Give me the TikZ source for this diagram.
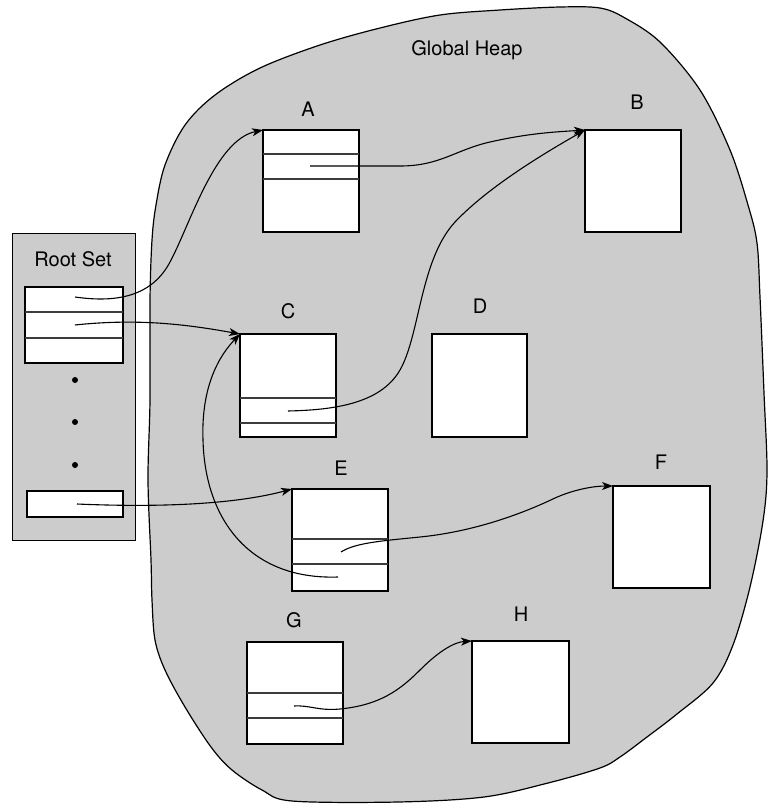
\documentclass[tikz,border=0pt]{standalone}
\usepackage{fontspec}
\setmainfont{TeX Gyre Heros}
\usetikzlibrary{arrows.meta}
\definecolor{heap}{RGB}{204,204,204}
\definecolor{divc}{RGB}{60,60,60}
\begin{document}
\begin{tikzpicture}[x=1pt,y=-1pt,
 obj/.style={draw=black, line width=1.4pt, fill=white, anchor=north west, inner sep=0pt, outer sep=0pt, minimum width=96pt, minimum height=102pt},
 divider/.style={draw=divc, line width=1.1pt},
 lbl/.style={font=\fontsize{20}{24}\selectfont, inner sep=0pt},
 ptr/.style={draw=black, line width=1.1pt, -{Stealth[length=11pt,width=8pt,inset=3pt]}},
 dotm/.style={circle, fill=black, inner sep=0pt, minimum size=6pt}]
\useasboundingbox (0,0) rectangle (768,804);

% Global heap blob
\draw[fill=heap, line width=1.2pt] plot[smooth cycle, tension=0.55] coordinates {
 (152,240) (156,205) (165,165) (185,125) (215,95) (260,68) (320,45) (380,28) (440,15)
 (500,10) (560,7) (600,8) (625,18) (660,42) (700,90) (730,150) (748,205) (757,243)
 (760,297) (764,393) (767,471) (763,521) (750,587) (733,645) (713,683) (677,714)
 (647,737) (620,757) (600,768) (548,783) (484,797) (398,802) (292,801) (262,790)
 (232,770) (211,747) (185,707) (165,670) (155,640) (152,600) (151,560) (148,480)
 (150,400) (150,300)};
\node[lbl] (heaplbl) at (467,50) {Global Heap};

% Root set
\node[draw=black, fill=heap, line width=1.4pt, anchor=north west, inner sep=0pt,
      minimum width=123pt, minimum height=307pt] (root) at (12,233) {};
\node[lbl] (rootlbl) at (73,259) {Root Set};
\node[obj, minimum width=98pt, minimum height=76pt] (rg) at (25,287) {};
\draw[divider] ([yshift=-25pt]rg.north west) -- ([yshift=-25pt]rg.north east);
\draw[divider] ([yshift=-51pt]rg.north west) -- ([yshift=-51pt]rg.north east);
\node[dotm] (d1) at (75,380) {};
\node[dotm] (d2) at (75,422) {};
\node[dotm] (d3) at (75,465) {};
\node[obj, minimum width=96pt, minimum height=26pt] (rl) at (27,491) {};

% Objects
\node[obj] (A) at (263,130) {};
\draw[divider] ([yshift=-24pt]A.north west) -- ([yshift=-24pt]A.north east);
\draw[divider] ([yshift=-49pt]A.north west) -- ([yshift=-49pt]A.north east);
\node[lbl] (lA) at (308,109) {A};

\node[obj] (B) at (585,130) {};
\node[lbl] (lB) at (637,102) {B};

\node[obj, minimum height=103pt] (C) at (240,334) {};
\draw[divider] ([yshift=-64pt]C.north west) -- ([yshift=-64pt]C.north east);
\draw[divider] ([yshift=-89pt]C.north west) -- ([yshift=-89pt]C.north east);
\node[lbl] (lC) at (288,311) {C};

\node[obj, minimum width=95pt, minimum height=103pt] (D) at (432,334) {};
\node[lbl] (lD) at (480,306) {D};

\node[obj] (E) at (292,489) {};
\draw[divider] ([yshift=-50pt]E.north west) -- ([yshift=-50pt]E.north east);
\draw[divider] ([yshift=-75pt]E.north west) -- ([yshift=-75pt]E.north east);
\node[lbl] (lE) at (341,468) {E};

\node[obj, minimum width=97pt] (F) at (613,486) {};
\node[lbl] (lF) at (661,462) {F};

\node[obj] (G) at (247,642) {};
\draw[divider] ([yshift=-51pt]G.north west) -- ([yshift=-51pt]G.north east);
\draw[divider] ([yshift=-76pt]G.north west) -- ([yshift=-76pt]G.north east);
\node[lbl] (lG) at (294,620) {G};

\node[obj, minimum width=97pt] (H) at (472,641) {};
\node[lbl] (lH) at (521,614) {H};

% pointer start points
\coordinate (pR1) at (75,297);
\coordinate (pR2) at (75,325);
\coordinate (pR3) at (77,504);
\coordinate (pA) at (310,166);
\coordinate (pC) at (288,411);
\coordinate (pE1) at (341,552);
\coordinate (pE2) at (338,577);
\coordinate (pG) at (294,706);

% pointers
\draw[ptr] (pR1) .. controls (110,302) and (150,300) .. (170,262)
           .. controls (190,225) and (215,140) .. (A.north west);
\draw[ptr] (pR2) .. controls (140,318) and (190,325) .. (C.north west);
\draw[ptr] (pA) -- (400,166) .. controls (440,166) and (455,150) .. (490,142)
           .. controls (530,133) and (555,132) .. (B.north west);
\draw[ptr] (pC) .. controls (330,410) and (380,405) .. (400,370)
           .. controls (420,335) and (420,260) .. (455,222)
           .. controls (490,185) and (550,150) .. (B.north west);
\draw[ptr] (pR3) .. controls (170,508) and (240,503) .. (E.north west);
\draw[ptr] (pE2) .. controls (250,580) and (205,520) .. (203,440)
           .. controls (201,385) and (220,355) .. (C.north west);
\draw[ptr] (pE1) .. controls (355,543) and (380,541) .. (420,537)
           .. controls (480,531) and (530,510) .. (555,498)
           .. controls (575,489) and (595,486) .. (F.north west);
\draw[ptr] (pG) .. controls (310,705) and (318,711) .. (340,709)
           .. controls (380,705) and (400,690) .. (420,670)
           .. controls (440,650) and (455,642) .. (H.north west);
\end{tikzpicture}
\end{document}
